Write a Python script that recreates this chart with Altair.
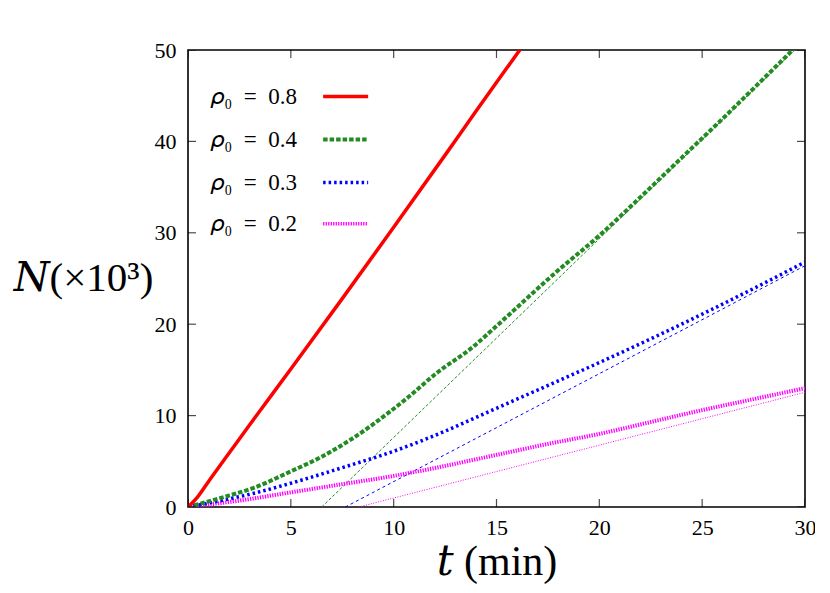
import altair as alt
import pandas as pd

# ---- data ----
red_t = [0, 0.5, 1, 2, 3, 5, 7.5, 10, 12.5, 14, 16.13]
red_n = [0, 1.2, 2.8, 5.9, 9.0, 15.1, 22.8, 30.6, 38.5, 43.3, 50.0]

green_t = [0, 1.6, 3.2, 5, 6.5, 8, 9.8, 10.7, 12, 13.9, 15, 17.9, 20, 22, 24, 26, 28, 29.4]
green_n = [0, 1.0, 2.1, 3.9, 5.5, 7.5, 10.4, 12.0, 14.5, 17.6, 19.8, 25.7, 29.7, 33.9, 38.2, 42.5, 46.9, 50.0]

blue_t = [0, 1.6, 3.2, 5, 7.5, 10, 12.5, 13.9, 15, 17.5, 20, 22.5, 25, 27.5, 30]
blue_n = [0, 0.7, 1.5, 2.6, 4.3, 6.1, 8.3, 9.7, 10.8, 13.3, 15.8, 18.4, 21.1, 23.9, 26.8]

mag_t = [0, 2.5, 5, 7.5, 10, 12.5, 15, 17.5, 20, 22.5, 25, 27.5, 30]
mag_n = [0, 0.7, 1.6, 2.5, 3.4, 4.5, 5.7, 6.9, 8.0, 9.3, 10.6, 11.8, 13.0]

# asymptotic (thin) lines: end points
green_fit_t = [6.5, 29.5]
green_fit_n = [0, 50.0]
blue_fit_t = [7.65, 30]
blue_fit_n = [0, 26.4]
mag_fit_t = [8.3, 30]
mag_fit_n = [0, 12.55]

legend_labels = ["𝜌₀\u2002=\u20020.8", "𝜌₀\u2002=\u20020.4", "𝜌₀\u2002=\u20020.3", "𝜌₀\u2002=\u20020.2"]
legend_y = [44.9, 40.2, 35.5, 31.0]
legend_text_t = 5.3
legend_line_t = [6.57, 8.76]

x_ticks = [0, 5, 10, 15, 20, 25, 30]
y_ticks = [0, 10, 20, 30, 40, 50]

W, H = 617, 457
FONT = "Liberation Serif, DejaVu Serif, Noto Serif, serif"

xscale = alt.Scale(domain=[0, 30], nice=False, zero=False)
yscale = alt.Scale(domain=[0, 50], nice=False, zero=False)

xaxis = alt.Axis(values=x_ticks, ticks=False, domain=False, grid=False, labelFlush=False,
                 labelFont=FONT, labelFontSize=22, labelPadding=10, labelColor="black",
                 title="𝑡 (min)", titleFont=FONT, titleFontSize=42, titleFontWeight="normal",
                 titleColor="black", titleY=54, titleBaseline="middle")
yaxis = alt.Axis(values=y_ticks, ticks=False, domain=False, grid=False, labelFlush=False,
                 labelFont=FONT, labelFontSize=22, labelPadding=12, labelColor="black",
                 title="𝑁(×10³)", titleFont=FONT, titleFontSize=41, titleFontWeight="normal",
                 titleColor="black", titleAngle=0, titleX=-105, titleY=H / 2,
                 titleAlign="center", titleBaseline="middle")

X = alt.X("t:Q", scale=xscale, axis=xaxis)
Y = alt.Y("N:Q", scale=yscale, axis=yaxis)


def curve(t, n, color, width, dash=None):
    kw = dict(color=color, strokeWidth=width, clip=True, interpolate="monotone")
    if dash:
        kw["strokeDash"] = dash
    return alt.Chart(pd.DataFrame({"t": t, "N": n})).mark_line(**kw).encode(x=X, y=Y)


layers = [
    curve(green_fit_t, green_fit_n, "#228B22", 1, [3, 2]),
    curve(blue_fit_t, blue_fit_n, "#0000FF", 1, [3, 3]),
    curve(mag_fit_t, mag_fit_n, "#FF00FF", 1, [1, 1.5]),
    curve(mag_t, mag_n, "#FF00FF", 4, [1.3, 1.2]),
    curve(blue_t, blue_n, "#0000FF", 3.5, [2.5, 3]),
    curve(green_t, green_n, "#228B22", 4, [4.5, 2]),
    curve(red_t, red_n, "#FF0000", 3.5),
]

# legend (inside the plot)
leg_colors = ["#FF0000", "#228B22", "#0000FF", "#FF00FF"]
leg_dash = [None, [4.5, 2], [2.5, 3], [1.3, 1.2]]
leg_width = [3.5, 4, 3.5, 3.5]
for lab, yv, c, d, w in zip(legend_labels, legend_y, leg_colors, leg_dash, leg_width):
    df = pd.DataFrame({"t": [legend_line_t[0]], "t2": [legend_line_t[1]], "N": [yv]})
    kw = dict(color=c, strokeWidth=w)
    if d:
        kw["strokeDash"] = d
    layers.append(alt.Chart(df).mark_rule(**kw).encode(x=X, x2="t2:Q", y=Y))

leg_df = pd.DataFrame({"t": [legend_text_t] * 4, "N": legend_y, "label": legend_labels})
layers.append(alt.Chart(leg_df).mark_text(align="right", baseline="middle", font=FONT,
                                          fontSize=23, color="black")
              .encode(x=X, y=Y, text="label:N"))

# inward ticks on all four sides
xt = pd.DataFrame({"t": x_ticks})
yt = pd.DataFrame({"N": y_ticks})
tick_kw = dict(color="black", size=16, thickness=1.2, clip=True)
layers += [
    alt.Chart(xt).mark_tick(orient="vertical", **tick_kw).encode(x=X, y=alt.value(H)),
    alt.Chart(xt).mark_tick(orient="vertical", **tick_kw).encode(x=X, y=alt.value(0)),
    alt.Chart(yt).mark_tick(orient="horizontal", **tick_kw).encode(y=Y, x=alt.value(0)),
    alt.Chart(yt).mark_tick(orient="horizontal", **tick_kw).encode(y=Y, x=alt.value(W)),
]

chart = alt.layer(*layers).properties(
    width=W, height=H,
    autosize=alt.AutoSizeParams(type="none"),
    padding={"left": 180, "top": 42, "right": 10, "bottom": 85},
    background="white",
).configure(font=FONT).configure_view(stroke="black", strokeWidth=1.6)

chart.save("out.html", embed_options={"renderer": "svg", "actions": False})
